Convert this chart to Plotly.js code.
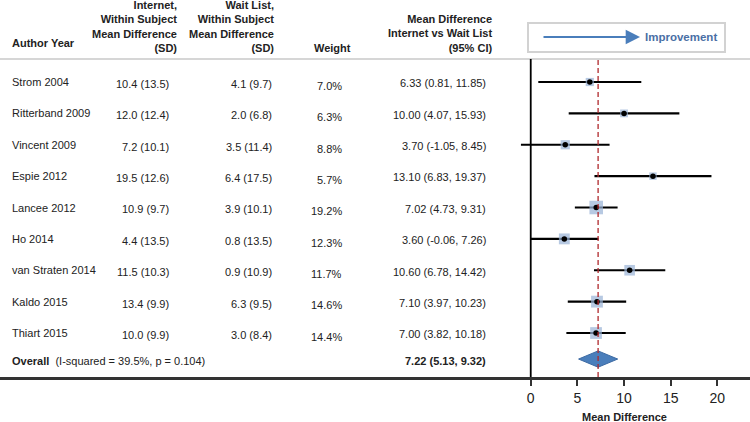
<!DOCTYPE html>
<html>
<head>
<meta charset="utf-8">
<script src="https://cdn.plot.ly/plotly-3.0.1.min.js"></script>
<style>
  html, body { margin: 0; padding: 0; background: #fff; }
  #myDiv { width: 750px; height: 422px; }
</style>
</head>
<body>
<div id="myDiv"></div>
<script>
// study data
var authors = ['Strom 2004', 'Ritterband 2009', 'Vincent 2009', 'Espie 2012', 'Lancee 2012',
  'Ho 2014', 'van Straten 2014', 'Kaldo 2015', 'Thiart 2015'];
var internetMean = [10.4, 12.0, 7.2, 19.5, 10.9, 4.4, 11.5, 13.4, 10.0];
var internetSD = [13.5, 12.4, 10.1, 12.6, 9.7, 13.5, 10.3, 9.9, 9.9];
var waitMean = [4.1, 2.0, 3.5, 6.4, 3.9, 0.8, 0.9, 6.3, 3.0];
var waitSD = [9.7, 6.8, 11.4, 17.5, 10.1, 13.5, 10.9, 9.5, 8.4];
var weights = [7.0, 6.3, 8.8, 5.7, 19.2, 12.3, 11.7, 14.6, 14.4];
var md = [6.33, 10.00, 3.70, 13.10, 7.02, 3.60, 10.60, 7.10, 7.00];
var ciLow = [0.81, 4.07, -1.05, 6.83, 4.73, -0.06, 6.78, 3.97, 3.82];
var ciHigh = [11.85, 15.93, 8.45, 19.37, 9.31, 7.26, 14.42, 10.23, 10.18];

var overallMd = 7.22;
var overallLow = 5.13;
var overallHigh = 9.32;
var iSquared = 39.5;
var pValue = 0.104;

var xTicks = [0, 5, 10, 15, 20];

var rows = authors.map(function (a, i) { return i; });
var overallRow = 8.83;

var txt = '#222';
var font = 'Liberation Sans, Arial, sans-serif';

// squares with CI lines
var boxes = {
  x: md,
  y: rows,
  type: 'scatter',
  mode: 'markers',
  marker: {
    symbol: 'square',
    color: '#98b2d6',
    line: { width: 0 },
    size: weights.map(function (w) { return 3.1 * Math.sqrt(w); })
  },
  error_x: {
    type: 'data',
    symmetric: false,
    array: md.map(function (m, i) { return ciHigh[i] - m; }),
    arrayminus: md.map(function (m, i) { return m - ciLow[i]; }),
    color: '#000',
    thickness: 2.2,
    width: 0
  },
  hoverinfo: 'skip'
};

var dots = {
  x: md,
  y: rows,
  type: 'scatter',
  mode: 'markers',
  marker: { color: '#000', size: 5.5, line: { width: 0 } },
  hoverinfo: 'skip'
};

var diamondH = 0.26;
var diamond = {
  x: [overallLow, overallMd, overallHigh, overallMd, overallLow],
  y: [overallRow, overallRow - diamondH, overallRow, overallRow + diamondH, overallRow],
  type: 'scatter',
  mode: 'lines',
  fill: 'toself',
  fillcolor: '#4a7ebb',
  line: { color: '#3c6aa3', width: 1 },
  hoverinfo: 'skip'
};

var annotations = [];
function note(text, x, y, xanchor, opts) {
  var a = {
    text: text, x: x, y: y, xref: 'paper', yref: 'y',
    xanchor: xanchor, yanchor: 'middle', align: xanchor === 'left' ? 'left' : xanchor,
    showarrow: false, font: { family: font, size: 11, color: txt }
  };
  for (var k in opts) a[k] = opts[k];
  annotations.push(a);
}

// header
var H = 377;
function py(p) { return 1 - p / H; }
note('<b>Author Year</b>', 10 / 750, py(43), 'left', { yref: 'paper' });
note('<b>Internet,<br>Within Subject<br>Mean Difference<br>(SD)</b>', 179 / 750, py(26), 'right', { yref: 'paper' });
note('<b>Wait List,<br>Within Subject<br>Mean Difference<br>(SD)</b>', 276 / 750, py(26), 'right', { yref: 'paper' });
note('<b>Weight</b>', 332 / 750, py(48), 'center', { yref: 'paper' });
note('<b>Mean Difference<br>Internet vs Wait List<br>(95% CI)</b>', 494 / 750, py(33), 'right', { yref: 'paper' });

// rows
authors.forEach(function (a, i) {
  note(a, 10 / 750, i, 'left');
  note(internetMean[i].toFixed(1) + ' (' + internetSD[i].toFixed(1) + ')', 171 / 750, i + 0.06, 'right');
  note(waitMean[i].toFixed(1) + ' (' + waitSD[i].toFixed(1) + ')', 274 / 750, i + 0.06, 'right');
  note(weights[i].toFixed(1) + '%', 344 / 750, i + 0.12, 'right');
  note(md[i].toFixed(2) + ' (' + ciLow[i].toFixed(2) + ', ' + ciHigh[i].toFixed(2) + ')', 488 / 750, i + 0.04, 'right');
});

note('<b>Overall</b>  (I-squared = ' + iSquared.toFixed(1) + '%, p = ' + pValue.toFixed(3) + ')', 10 / 750, overallRow + 0.05, 'left');
note('<b>' + overallMd.toFixed(2) + ' (' + overallLow.toFixed(2) + ', ' + overallHigh.toFixed(2) + ')</b>', 488 / 750, overallRow + 0.05, 'right');

// improvement arrow + label
annotations.push({
  x: 640 / 750, y: py(37), xref: 'paper', yref: 'paper',
  ax: -98, ay: 0, text: '', showarrow: true,
  arrowhead: 2, arrowsize: 1.3, arrowwidth: 2.2, arrowcolor: '#4a7ebb'
});
note('<b>Improvement</b>', 643 / 750, py(37), 'left', { yref: 'paper', font: { family: font, size: 11.5, color: '#4a6fa5' } });

// axis title
annotations.push({
  text: '<b>Mean Difference</b>', x: 10, xref: 'x', y: py(417), yref: 'paper',
  xanchor: 'center', yanchor: 'middle', showarrow: false,
  font: { family: font, size: 11, color: txt }
});

var shapes = [
  // header separator
  { type: 'line', xref: 'paper', yref: 'paper', x0: 0, x1: 1, y0: py(59), y1: py(59),
    line: { color: '#c8c8c8', width: 1.5 } },
  // improvement box
  { type: 'rect', xref: 'paper', yref: 'paper', x0: 528 / 750, x1: 725 / 750, y0: py(52), y1: py(23),
    line: { color: '#d2d2d2', width: 2 } },
  // no-effect line
  { type: 'line', xref: 'x', yref: 'paper', x0: 0, x1: 0, y0: 0, y1: py(59),
    line: { color: '#000', width: 1.8 } },
  // overall estimate line
  { type: 'line', xref: 'x', yref: 'paper', x0: overallMd, x1: overallMd, y0: 0, y1: py(59),
    line: { color: '#b0282c', width: 1.3, dash: '5px,3px' } }
];

var layout = {
  width: 750,
  height: 422,
  margin: { l: 0, r: 0, t: 0, b: 45 },
  paper_bgcolor: '#fff',
  plot_bgcolor: '#fff',
  showlegend: false,
  font: { family: font, color: txt },
  xaxis: {
    range: [-56.88, 23.5],
    tickvals: xTicks,
    ticktext: xTicks.map(String),
    tickfont: { size: 14, color: txt },
    showline: true,
    linecolor: '#333',
    linewidth: 3,
    ticks: 'outside',
    ticklen: 6,
    tickwidth: 2,
    tickcolor: '#333',
    showgrid: false,
    zeroline: false,
    fixedrange: true
  },
  yaxis: {
    range: [9.402, -2.614],
    visible: false,
    showgrid: false,
    zeroline: false,
    fixedrange: true
  },
  shapes: shapes,
  annotations: annotations
};

Plotly.newPlot('myDiv', [boxes, diamond, dots], layout, { displayModeBar: false, staticPlot: true });
</script>
</body>
</html>
